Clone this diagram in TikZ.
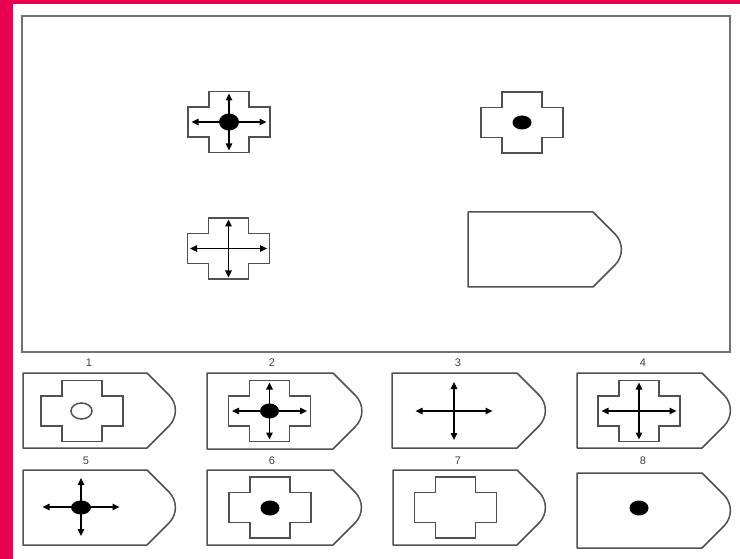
\documentclass[tikz,border=0pt]{standalone}
\usepackage{fontspec}
\setmainfont{Liberation Sans}
\usetikzlibrary{arrows.meta}
\definecolor{framered}{RGB}{232,0,82}
\definecolor{boxgray}{RGB}{115,115,115}
\definecolor{shapegray}{RGB}{80,80,80}
\def\tgR{22}
\newcommand\tagbox[4]{%
  \pgfmathsetmacro\tgh{(#4-#2)/2}%
  \pgfmathsetmacro\tgt{\tgh-0.7071*\tgR}%
  \pgfmathsetmacro\tgk{0.3905*\tgR}%
  \draw[tagline] (#1,#2) -- (#3,#2) -- ({#3+\tgt},{#2+\tgt})
    .. controls +(\tgk,\tgk) and +(\tgk,-\tgk) .. ({#3+\tgt},{#4-\tgt})
    -- (#3,#4) -- (#1,#4) -- cycle;}
\newcommand\crossat[2]{%
  \draw[crossline] (#1-20,#2-30.5) -- (#1+20,#2-30.5) -- (#1+20,#2-15) -- (#1+41,#2-15)
    -- (#1+41,#2+15) -- (#1+20,#2+15) -- (#1+20,#2+30.5) -- (#1-20,#2+30.5)
    -- (#1-20,#2+15) -- (#1-41,#2+15) -- (#1-41,#2-15) -- (#1-20,#2-15) -- cycle;}
\newcommand\arrowsat[4]{%
  \draw[arr] (#1-#3,#2) -- (#1+#3,#2);
  \draw[arr] (#1,#2-#4) -- (#1,#2+#4);}
\newcommand\dotat[2]{\fill (#1,#2) ellipse [x radius=9.5pt, y radius=7.5pt];}
\begin{document}
\begin{tikzpicture}[x=1pt,y=-1pt,
  tagline/.style={draw=shapegray, line width=1.5pt, line join=round},
  crossline/.style={draw=shapegray, line width=1.5pt},
  arr/.style={black, line width=1.1pt, {Triangle[length=7pt,width=6.5pt]}-{Triangle[length=7pt,width=6.5pt]}},
  numlabel/.style={text=black!75, font=\fontsize{11}{12}\selectfont, inner sep=0pt}]
\useasboundingbox (0,0) rectangle (740,559);
\fill[white] (0,0) rectangle (740,559);
\fill[framered] (0,0) rectangle (740,4);
\fill[framered] (0,0) rectangle (13,559);
% main problem box
\draw[boxgray, line width=1.8pt] (22,16) rectangle (730,352);
% top left: cross with arrows and dot
\crossat{229}{122}
\arrowsat{229}{122}{37.5}{28.5}
\fill (229,122) ellipse [x radius=10pt, y radius=8.5pt];
% top right: cross with dot
\crossat{522}{122.5}
\fill (522,122.5) ellipse [x radius=9.5pt, y radius=7pt];
% bottom left: cross with arrows
\crossat{228.5}{248.5}
\arrowsat{228.5}{248.5}{38.5}{29}
% bottom right: empty tag
\tagbox{468}{212}{593}{287}
% answer options row 1
\node[numlabel] (n1) at (89,363) {1};
\node[numlabel] (n2) at (272,363) {2};
\node[numlabel] (n3) at (458,363) {3};
\node[numlabel] (n4) at (643,363) {4};
\tagbox{23}{373}{147}{448}
\crossat{82}{411}
\draw[crossline] (81.5,411) ellipse [x radius=10.5pt, y radius=8pt];
\tagbox{207}{373}{333}{449}
\crossat{269.5}{411}
\arrowsat{269.5}{411}{37.5}{28.5}
\fill (269.5,411) ellipse [x radius=9.5pt, y radius=7.5pt];
\tagbox{392}{373}{517}{448}
\arrowsat{454}{411}{38.5}{29}
\tagbox{577}{373}{702}{448}
\crossat{639}{411}
\arrowsat{639}{411}{37.5}{28.5}
% answer options row 2
\node[numlabel] (n5) at (86,461) {5};
\node[numlabel] (n6) at (272,461) {6};
\node[numlabel] (n7) at (458,461) {7};
\node[numlabel] (n8) at (643,461) {8};
\tagbox{23}{470}{147}{545}
\arrowsat{81}{507}{38.5}{29}
\fill (81,507.5) ellipse [x radius=10pt, y radius=7pt];
\tagbox{207}{470}{333}{545}
\crossat{270}{507.5}
\dotat{270}{508}
\tagbox{393}{470}{517}{545}
\crossat{455.5}{507.5}
\tagbox{577}{473}{702}{548}
\dotat{639}{508}
\end{tikzpicture}
\end{document}
